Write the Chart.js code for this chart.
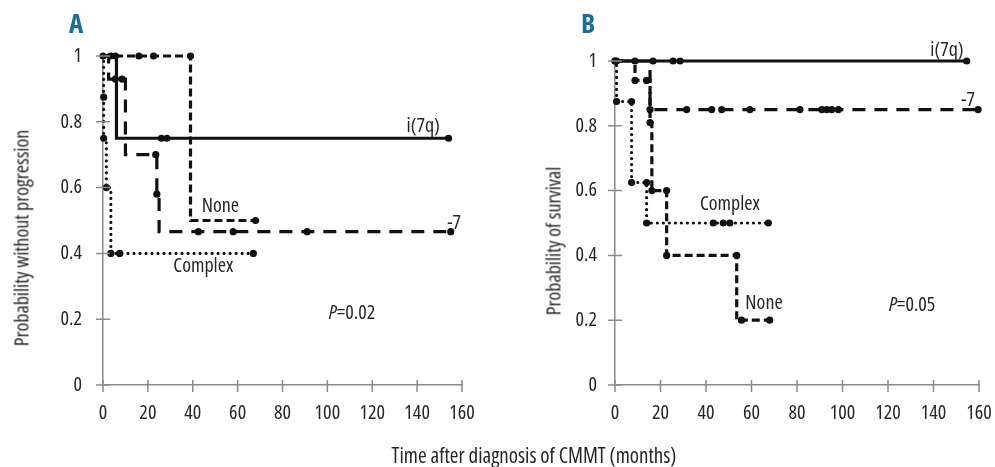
<!DOCTYPE html>
<html>
<head>
<meta charset="utf-8">
<script src="https://cdn.jsdelivr.net/npm/chart.js@4"></script>
<style>
  html, body { margin: 0; background: #fff; overflow: hidden; }
  body { width: 995px; height: 467px; position: relative; }
  .panel { position: absolute; top: 0; height: 467px; }
  .txt { position: absolute; font-family: "Open Sans", Roboto, sans-serif; font-stretch: condensed; color: #262626; white-space: nowrap; }
  .letter { font-weight: bold; font-size: 27px; color: #1c6b98; }
  .ytitle { font-size: 20px; transform: translate(-50%, -50%) rotate(-90deg); }
</style>
</head>
<body>
<div class="panel" style="left:0;width:500px"><canvas id="chartA"></canvas></div>
<div class="panel" style="left:500px;width:495px"><canvas id="chartB"></canvas></div>
<div class="txt letter" style="left:69px;top:4px">A</div>
<div class="txt letter" style="left:581px;top:4px">B</div>
<div class="txt ytitle" style="left:21px;top:238px">Probability without progression</div>
<div class="txt ytitle" style="left:553px;top:241px">Probability of survival</div>
<div class="txt" style="left:534px;top:455px;font-size:21px;transform:translate(-50%,-50%)">Time after diagnosis of CMMT (months)</div>
<script>
const FONT = "'Open Sans', Roboto, sans-serif";
const STRETCH = "normal condensed";
const SIZE = 20;

// axis ticks (both panels)
const xTicks = [0, 20, 40, 60, 80, 100, 120, 140, 160];
const xTickLabels = ["0", "20", "40", "60", "80", "100", "120", "140", "160"];
const yTicks = [0, 0.2, 0.4, 0.6, 0.8, 1];
const yTickLabels = ["0", "0.2", "0.4", "0.6", "0.8", "1"];

// Panel A - progression free (x = months, y = probability, dot = marker drawn)
const aI7qX = [0, 3.3, 5.5, 6, 26, 28.5, 154];
const aI7qY = [1, 1, 1, 0.75, 0.75, 0.75, 0.75];
const aI7qDot = [1, 1, 1, 0, 1, 1, 1];

const aMinus7X = [0, 2.5, 5.5, 8.5, 10, 23.5, 24, 25, 42.5, 58, 91, 155];
const aMinus7Y = [1, 0.93, 0.93, 0.93, 0.7, 0.7, 0.58, 0.466, 0.466, 0.466, 0.466, 0.466];
const aMinus7Dot = [0, 0, 1, 1, 0, 1, 1, 0, 1, 1, 1, 1];

const aNoneX = [0, 16, 22.5, 39, 39, 68];
const aNoneY = [1, 1, 1, 1, 0.5, 0.5];
const aNoneDot = [0, 1, 1, 1, 0, 1];

const aComplexX = [0, 0.3, 0.3, 1.5, 3.5, 7.4, 67];
const aComplexY = [1, 0.875, 0.75, 0.6, 0.4, 0.4, 0.4];
const aComplexDot = [0, 1, 1, 1, 1, 1, 1];

// Panel B - survival
const bI7qX = [0, 8.8, 16.7, 25.5, 28.6, 154.6];
const bI7qY = [1, 1, 1, 1, 1, 1];
const bI7qDot = [1, 1, 1, 1, 1, 1];

const bMinus7X = [0, 15.4, 15.4, 31.5, 42.5, 46.9, 59.3, 81.3, 90.9, 93.1, 95.3, 98.2, 159.6];
const bMinus7Y = [1, 1, 0.85, 0.85, 0.85, 0.85, 0.85, 0.85, 0.85, 0.85, 0.85, 0.85, 0.85];
const bMinus7Dot = [0, 0, 1, 1, 1, 1, 1, 1, 1, 1, 1, 1, 1];

const bNoneX = [0, 8.8, 8.8, 13.9, 15.4, 16.2, 22.7, 22.7, 53.5, 53.5, 55.6, 68];
const bNoneY = [1, 1, 0.94, 0.94, 0.81, 0.6, 0.6, 0.4, 0.4, 0.2, 0.2, 0.2];
const bNoneDot = [0, 0, 1, 1, 1, 1, 1, 1, 1, 0, 1, 1];

const bComplexX = [0, 0.7, 0.7, 7.3, 7.3, 13.9, 13.9, 43.2, 47.6, 50.5, 67.4];
const bComplexY = [1, 1, 0.875, 0.875, 0.625, 0.625, 0.5, 0.5, 0.5, 0.5, 0.5];
const bComplexDot = [1, 1, 1, 1, 1, 1, 1, 1, 1, 1, 1];

// curve labels placed in data units
const aLabels = [
  { text: "i(7q)", x: 142.7, y: 0.785 },
  { text: "None", x: 52.3, y: 0.544 },
  { text: "-7", x: 156.5, y: 0.49 },
  { text: "Complex", x: 44.7, y: 0.36 },
  { text: "=0.02", x: 111, y: 0.219, italic: "P" }
];
const bLabels = [
  { text: "i(7q)", x: 145.9, y: 1.032 },
  { text: "-7", x: 155.2, y: 0.88 },
  { text: "Complex", x: 50.5, y: 0.559 },
  { text: "None", x: 65.5, y: 0.252 },
  { text: "=0.05", x: 130.6, y: 0.247, italic: "P" }
];

const styles = {
  i7q: { borderDash: [], borderCapStyle: "butt" },
  minus7: { borderDash: [13, 9], borderCapStyle: "butt" },
  none: { borderDash: [8, 4], borderCapStyle: "butt" },
  complex: { borderDash: [0.01, 6], borderCapStyle: "round" }
};

function curve(xs, ys, dots, style) {
  return {
    data: xs.map((x, i) => ({ x: x, y: ys[i] })),
    stepped: true,
    borderColor: "#111",
    borderWidth: 3.2,
    borderDash: style.borderDash,
    borderCapStyle: style.borderCapStyle,
    pointRadius: dots.map(d => d ? 3.6 : 0),
    pointBackgroundColor: "#111",
    pointBorderWidth: 0,
    pointHoverRadius: 0,
    clip: false,
    fill: false
  };
}

// ticks that cross the axis lines, plus in-plot text
const decorPlugin = {
  id: "decor",
  afterDraw(chart) {
    const c = chart.ctx;
    const xs = chart.scales.x, ys = chart.scales.y;
    c.save();
    c.strokeStyle = "#8a8a8a";
    c.lineWidth = 1.5;
    c.beginPath();
    xTicks.forEach(v => {
      const px = xs.getPixelForValue(v);
      c.moveTo(px, ys.bottom - 5);
      c.lineTo(px, ys.bottom + 7);
    });
    yTicks.forEach(v => {
      const py = ys.getPixelForValue(v);
      c.moveTo(xs.left - 7, py);
      c.lineTo(xs.left + 7, py);
    });
    c.stroke();
    c.fillStyle = "#262626";
    c.textBaseline = "middle";
    const plain = STRETCH + " " + SIZE + "px " + FONT;
    const ital = "italic " + STRETCH + " " + SIZE + "px " + FONT;
    chart.options.plugins.decor.labels.forEach(l => {
      const px = xs.getPixelForValue(l.x), py = ys.getPixelForValue(l.y);
      if (l.italic) {
        c.font = ital;
        const w1 = c.measureText(l.italic).width;
        c.font = plain;
        const w2 = c.measureText(l.text).width;
        const left = px - (w1 + w2) / 2;
        c.textAlign = "left";
        c.font = ital;
        c.fillText(l.italic, left, py);
        c.font = plain;
        c.fillText(l.text, left + w1, py);
      } else {
        c.font = plain;
        c.textAlign = "center";
        c.fillText(l.text, px, py);
      }
    });
    c.restore();
  }
};

function makeChart(id, datasets, labels, yWidth, yPad, layoutPad) {
  return new Chart(document.getElementById(id), {
    type: "line",
    data: { datasets: datasets },
    options: {
      responsive: true,
      maintainAspectRatio: false,
      animation: false,
      events: [],
      layout: { padding: layoutPad },
      plugins: {
        legend: { display: false },
        tooltip: { enabled: false },
        decor: { labels: labels }
      },
      scales: {
        x: {
          type: "linear",
          min: 0,
          max: 160,
          afterBuildTicks: s => { s.ticks = xTicks.map(v => ({ value: v })); },
          afterFit: s => { s.height = 82; s.paddingLeft = 0; s.paddingRight = 0; },
          grid: { display: true, drawOnChartArea: false, drawTicks: false },
          border: { display: true, color: "#8a8a8a", width: 1.5 },
          ticks: {
            padding: 16,
            color: "#262626",
            font: { family: FONT, size: SIZE, weight: STRETCH },
            maxRotation: 0,
            autoSkip: false,
            callback: (v, i) => xTickLabels[i]
          }
        },
        y: {
          min: 0,
          max: 1,
          afterBuildTicks: s => { s.ticks = yTicks.map(v => ({ value: v })); },
          afterFit: s => { s.width = yWidth; },
          grid: { display: true, drawOnChartArea: false, drawTicks: false },
          border: { display: true, color: "#8a8a8a", width: 1.5 },
          ticks: {
            padding: yPad,
            color: "#262626",
            font: { family: FONT, size: SIZE, weight: STRETCH },
            autoSkip: false,
            callback: (v, i) => yTickLabels[i]
          }
        }
      }
    },
    plugins: [decorPlugin]
  });
}

makeChart("chartA", [
  curve(aI7qX, aI7qY, aI7qDot, styles.i7q),
  curve(aMinus7X, aMinus7Y, aMinus7Dot, styles.minus7),
  curve(aNoneX, aNoneY, aNoneDot, styles.none),
  curve(aComplexX, aComplexY, aComplexDot, styles.complex)
], aLabels, 103, 21, { left: 0, right: 38, top: 56, bottom: 0 });

makeChart("chartB", [
  curve(bI7qX, bI7qY, bI7qDot, styles.i7q),
  curve(bMinus7X, bMinus7Y, bMinus7Dot, styles.minus7),
  curve(bNoneX, bNoneY, bNoneDot, styles.none),
  curve(bComplexX, bComplexY, bComplexDot, styles.complex)
], bLabels, 115, 18, { left: 0, right: 16, top: 61, bottom: 0 });
</script>
</body>
</html>
